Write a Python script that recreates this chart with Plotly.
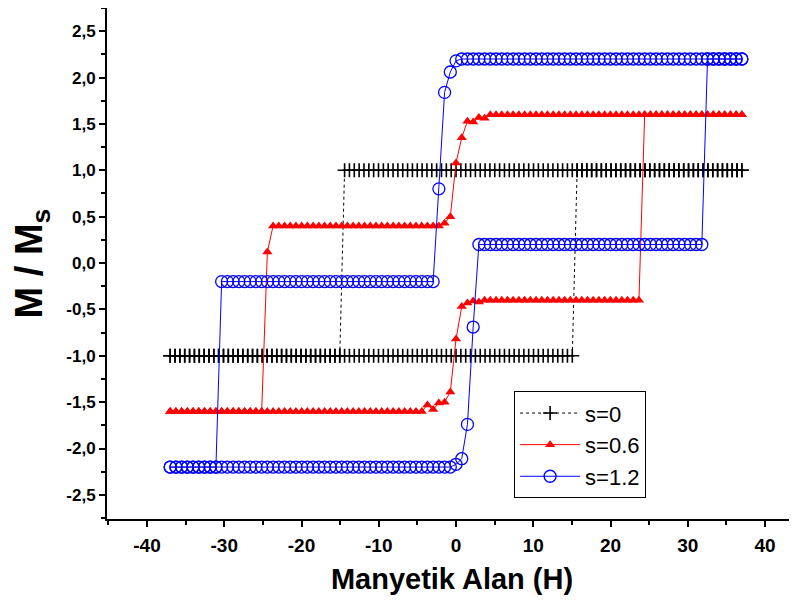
import numpy as np
import plotly.graph_objects as go

# ---- field sweep (H axis) ----
FIELD_MIN, FIELD_MAX = -37.0, 37.0
N_S0 = 119          # points per sweep, s=0
N_S = 101           # points per sweep, s=0.6 and s=1.2
H_s0 = list(np.linspace(FIELD_MIN, FIELD_MAX, N_S0))
H_s = list(np.linspace(FIELD_MIN, FIELD_MAX, N_S))

# ---- s = 0 : ascending sweep (H low->high), descending sweep (H high->low) ----
s0_up = [-1.0] * 84 + [1.0] * 35
s0_down = [1.0] * 83 + [-1.0] * 36

# ---- s = 0.6 ----
s06_up = ([-1.60] * 45
          + [-1.53, -1.58, -1.51, -1.50, -1.39, -0.82, -0.47, -0.43, -0.41, -0.42]
          + [-0.40] * 28
          + [1.60] * 18)
s06_down = ([1.60] * 45
            + [1.56, 1.57, 1.52, 1.53, 1.35, 1.08, 0.50, 0.43]
            + [0.40] * 30
            + [0.12]
            + [-1.60] * 17)

# ---- s = 1.2 ----
s12_up = ([-2.20] * 50
          + [-2.17, -2.11, -1.74, -0.69]
          + [0.20] * 40
          + [2.20] * 7)
s12_down = ([2.20] * 50
            + [2.18, 2.06, 1.84, 0.80]
            + [-0.20] * 38
            + [-2.20] * 9)

series_names = ["s=0", "s=0.6", "s=1.2"]

y_tickvals = [-2.5, -2.0, -1.5, -1.0, -0.5, 0.0, 0.5, 1.0, 1.5, 2.0, 2.5]
y_ticktext = ["-2,5", "-2,0", "-1,5", "-1,0", "-0,5", "0,0", "0,5", "1,0", "1,5", "2,0", "2,5"]
x_tickvals = [-40, -30, -20, -10, 0, 10, 20, 30, 40]
x_ticktext = ["-40", "-30", "-20", "-10", "0", "10", "20", "30", "40"]

FONT = "Liberation Sans, Arial, sans-serif"

fig = go.Figure()

fig.add_trace(go.Scatter(
    x=H_s0 + H_s0[::-1], y=s0_up + s0_down,
    mode="lines+markers", name=series_names[0],
    line=dict(color="black", width=1, dash="dot"),
    marker=dict(symbol="cross-thin-open", size=10, color="black",
                line=dict(color="black", width=1.6)),
))
fig.add_trace(go.Scatter(
    x=H_s + H_s[::-1], y=s06_up + s06_down,
    mode="lines+markers", name=series_names[1],
    line=dict(color="#FF0000", width=1),
    marker=dict(symbol="triangle-up", size=9, color="#FF0000",
                line=dict(width=0)),
))
fig.add_trace(go.Scatter(
    x=H_s + H_s[::-1], y=s12_up + s12_down,
    mode="lines+markers", name=series_names[2],
    line=dict(color="#0000FF", width=1),
    marker=dict(symbol="circle-open", size=12, color="#0000FF",
                line=dict(color="#0000FF", width=1.3)),
))

axis_common = dict(
    showline=True, linecolor="black", linewidth=2,
    ticks="outside", ticklen=6, tickwidth=2, tickcolor="black",
    showgrid=False, zeroline=False, mirror=False, automargin=False,
)

fig.update_layout(
    width=797, height=604,
    margin=dict(l=99, r=8, t=0, b=93),
    plot_bgcolor="white", paper_bgcolor="white",
    font=dict(family=FONT, color="black"),
    xaxis=dict(
        range=[-45.18, 44.14],
        tickvals=x_tickvals, ticktext=x_ticktext,
        tickfont=dict(family=FONT, size=19, color="black", weight="bold"),
        ticklabelstandoff=2,
        minor=dict(ticks="outside", ticklen=4, tickwidth=2, tickcolor="black", dtick=5),
        title=dict(text="Manyetik Alan (H)", font=dict(family=FONT, size=29, weight="bold"), standoff=14),
        **axis_common,
    ),
    yaxis=dict(
        range=[-2.76, 2.75],
        tickvals=y_tickvals, ticktext=y_ticktext,
        tickfont=dict(family=FONT, size=17, color="black", weight="bold"),
        minor=dict(ticks="outside", ticklen=4, tickwidth=2, tickcolor="black", dtick=0.25),
        title=dict(text="M / M<sub>s</sub>", font=dict(family=FONT, size=38, weight="bold"), standoff=16),
        **axis_common,
    ),
    legend=dict(
        x=0.59, y=0.25, xanchor="left", yanchor="top",
        bgcolor="white", bordercolor="black", borderwidth=1,
        font=dict(family=FONT, size=22, color="black"),
        itemwidth=60, tracegroupgap=0,
    ),
)

fig.write_html("out.html")
